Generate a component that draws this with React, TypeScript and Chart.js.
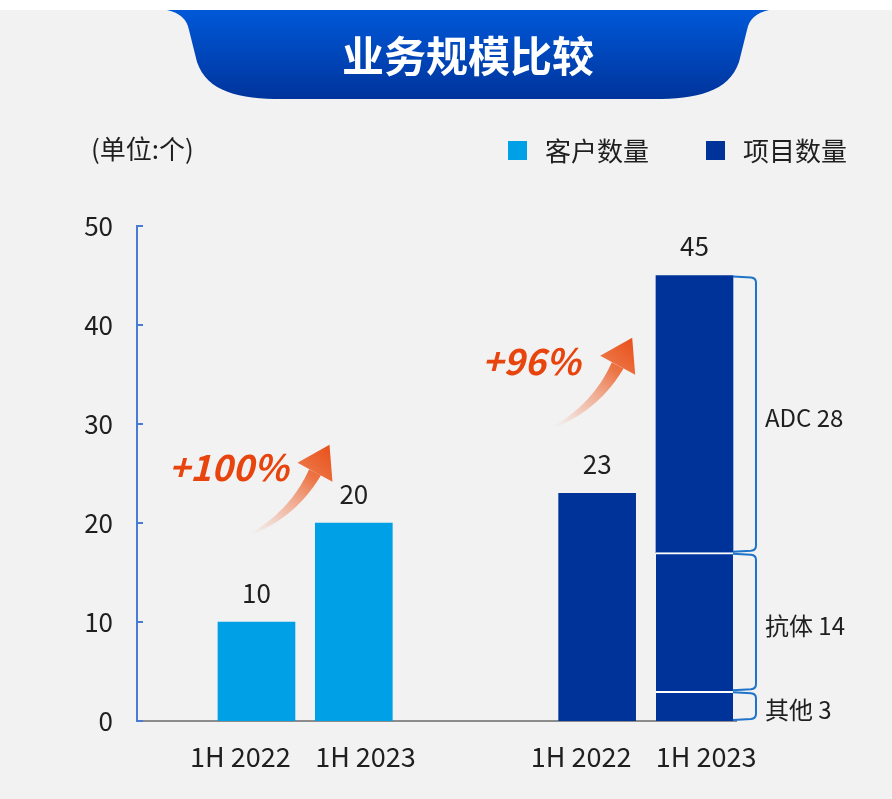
import { useEffect, useRef } from 'react';
import { Chart, registerables } from 'chart.js';

Chart.register(...registerables);

// ---------- data ----------
const titleText = '业务规模比较';
const unitText = '(单位:个)';
const seriesNames = ['客户数量', '项目数量'];
const periods = ['1H 2022', '1H 2023'];
const customerCounts = [10, 20];
const projectCounts = [23, 45];
const projectTypes = ['其他', '抗体', 'ADC'];
const projectTypeCounts2023 = [3, 14, 28];
const growthLabels = ['+100%', '+96%'];
const yTickValues = [0, 10, 20, 30, 40, 50];

// ---------- layout / style ----------
const W = 892;
const H = 799;
const AREA = { left: 137, top: 226, right: 736, bottom: 721 };
const GROUP_X = [0, 7];
const BAR_STEP = 2;
const X_MIN = -2.455;
const X_MAX = 9.853;
const LABEL_SHIFT = [-0.33, 0.24];
const LIGHT = '#00a0e6';
const DARK = '#003399';
const AXIS_BLUE = '#4a7bd4';
const BRACKET = '#1e74c8';
const ORANGE = '#e8440e';
const TEXT = '#1f1f1f';
const FONT = '"Noto Sans CJK SC", "Noto Sans", sans-serif';
// growth arrow tips in data coordinates
const ARROW_TIPS = [
  { x: 1.5, y: 27.9 },
  { x: 7.72, y: 38.7 },
];

const xPos = (g: number, i: number) => GROUP_X[g] + i * BAR_STEP;

const tickList = [0, 1].flatMap((g) =>
  periods.map((p, i) => ({ value: xPos(g, i) + LABEL_SHIFT[i], label: p }))
);

function drawArrow(ctx: CanvasRenderingContext2D, tx: number, ty: number) {
  const P = (dx: number, dy: number) => [tx + dx, ty + dy];
  const tail = P(-80, 90);
  const ctrl = P(-36, 69);
  const mid = P(-14.5, 27.5);
  const L = P(-32, 18);
  const R = P(3, 37);
  const N = 40;
  const left: number[][] = [];
  const right: number[][] = [];
  for (let i = 0; i <= N; i++) {
    const t = i / N;
    const u = 1 - t;
    const px = u * u * tail[0] + 2 * u * t * ctrl[0] + t * t * mid[0];
    const py = u * u * tail[1] + 2 * u * t * ctrl[1] + t * t * mid[1];
    const dx = 2 * u * (ctrl[0] - tail[0]) + 2 * t * (mid[0] - ctrl[0]);
    const dy = 2 * u * (ctrl[1] - tail[1]) + 2 * t * (mid[1] - ctrl[1]);
    const len = Math.hypot(dx, dy) || 1;
    const nx = -dy / len;
    const ny = dx / len;
    const w = 0.4 + 6.2 * Math.pow(t, 0.8);
    left.push([px + nx * w, py + ny * w]);
    right.push([px - nx * w, py - ny * w]);
  }
  const grad = ctx.createLinearGradient(tail[0], tail[1], tx, ty);
  grad.addColorStop(0, 'rgba(242,180,160,0)');
  grad.addColorStop(0.3, 'rgba(240,160,130,0.55)');
  grad.addColorStop(0.7, 'rgba(236,110,60,0.95)');
  grad.addColorStop(1, '#e8501a');
  ctx.save();
  ctx.fillStyle = grad;
  ctx.beginPath();
  ctx.moveTo(left[0][0], left[0][1]);
  for (const p of left) ctx.lineTo(p[0], p[1]);
  for (let i = right.length - 1; i >= 0; i--) ctx.lineTo(right[i][0], right[i][1]);
  ctx.closePath();
  ctx.fill();
  ctx.beginPath();
  ctx.moveTo(tx, ty);
  ctx.lineTo(L[0], L[1]);
  ctx.lineTo(R[0], R[1]);
  ctx.closePath();
  ctx.fill();
  ctx.restore();
}

const decorPlugin = {
  id: 'decor',
  beforeDraw(chart: any) {
    const ctx: CanvasRenderingContext2D = chart.ctx;
    ctx.save();
    ctx.fillStyle = '#ffffff';
    ctx.fillRect(0, 0, W, H);
    ctx.fillStyle = '#f2f2f2';
    ctx.fillRect(0, 10, W, H - 10);

    // banner
    const cx = 468;
    const m = (x: number) => 2 * cx - x;
    const g = ctx.createLinearGradient(0, 10, 0, 99);
    g.addColorStop(0, '#0058d8');
    g.addColorStop(1, '#00349c');
    ctx.fillStyle = g;
    ctx.beginPath();
    ctx.moveTo(167, 10);
    ctx.quadraticCurveTo(186, 14, 189, 30);
    ctx.lineTo(197, 62);
    ctx.bezierCurveTo(207, 92, 240, 99, 282, 99);
    ctx.lineTo(m(282), 99);
    ctx.bezierCurveTo(m(240), 99, m(207), 92, m(197), 62);
    ctx.lineTo(m(189), 30);
    ctx.quadraticCurveTo(m(186), 14, m(167), 10);
    ctx.closePath();
    ctx.fill();

    ctx.fillStyle = '#ffffff';
    ctx.font = `bold 42px ${FONT}`;
    ctx.textAlign = 'center';
    ctx.textBaseline = 'middle';
    ctx.fillText(titleText, cx, 56);

    // unit
    ctx.fillStyle = TEXT;
    ctx.font = `26px ${FONT}`;
    ctx.textAlign = 'left';
    ctx.fillText(unitText, 91, 149);

    // legend
    const legendX = [508, 706];
    const legendColors = [LIGHT, DARK];
    seriesNames.forEach((name, i) => {
      ctx.fillStyle = legendColors[i];
      ctx.fillRect(legendX[i], 141, 19, 19);
      ctx.fillStyle = TEXT;
      ctx.fillText(name, legendX[i] + 37, 151);
    });
    ctx.restore();
  },
  afterDatasetsDraw(chart: any) {
    const ctx: CanvasRenderingContext2D = chart.ctx;
    const xs = chart.scales.x;
    const ys = chart.scales.y;
    ctx.save();

    // inner y ticks
    ctx.strokeStyle = AXIS_BLUE;
    ctx.lineWidth = 2;
    ys.ticks.forEach((t: any) => {
      const y = Math.round(ys.getPixelForValue(t.value));
      ctx.beginPath();
      ctx.moveTo(AREA.left - 1, y);
      ctx.lineTo(AREA.left + 6, y);
      ctx.stroke();
    });

    // value labels
    ctx.fillStyle = TEXT;
    ctx.font = `26px ${FONT}`;
    ctx.textAlign = 'center';
    ctx.textBaseline = 'middle';
    customerCounts.forEach((v, i) => {
      ctx.fillText(String(v), xs.getPixelForValue(xPos(0, i)), ys.getPixelForValue(v) - 29);
    });
    projectCounts.forEach((v, i) => {
      ctx.fillText(String(v), xs.getPixelForValue(xPos(1, i)), ys.getPixelForValue(v) - 29);
    });

    // brackets
    ctx.font = `24px ${FONT}`;
    ctx.textAlign = 'left';
    projectTypes.forEach((name, k) => {
      const meta = chart.getDatasetMeta(2 + k);
      const el = meta.data[0];
      const p = el.getProps(['x', 'y', 'base', 'width'], true);
      const top = Math.min(p.y, p.base) + 1;
      const bot = Math.max(p.y, p.base) - 1;
      const x0 = p.x + p.width / 2;
      const bx = x0 + 23;
      ctx.strokeStyle = BRACKET;
      ctx.lineWidth = 2;
      ctx.beginPath();
      ctx.moveTo(x0, top);
      ctx.lineTo(bx - 5, top + 1);
      ctx.quadraticCurveTo(bx, top + 1.5, bx, top + 6);
      ctx.lineTo(bx, bot - 6);
      ctx.quadraticCurveTo(bx, bot - 1.5, bx - 5, bot - 1);
      ctx.lineTo(x0, bot);
      ctx.stroke();
      ctx.fillStyle = TEXT;
      ctx.fillText(`${name} ${projectTypeCounts2023[k]}`, bx + 9, (top + bot) / 2 + 4);
    });

    // growth arrows
    ARROW_TIPS.forEach((a, i) => {
      const tx = xs.getPixelForValue(a.x);
      const ty = ys.getPixelForValue(a.y);
      drawArrow(ctx, tx, ty);
      ctx.fillStyle = ORANGE;
      ctx.font = `italic bold 36px ${FONT}`;
      ctx.textAlign = 'center';
      ctx.textBaseline = 'middle';
      ctx.fillText(growthLabels[i], tx - 101, ty + 23);
    });
    ctx.restore();
  },
};

export default function App() {
  const ref = useRef<HTMLCanvasElement | null>(null);
  useEffect(() => {
    if (!ref.current) return;
    const font = { family: FONT, size: 26 };
    const chart = new Chart(ref.current, {
      type: 'bar',
      data: {
        datasets: [
          {
            label: seriesNames[0],
            data: customerCounts.map((v, i) => ({ x: xPos(0, i), y: v })),
            backgroundColor: LIGHT,
          },
          {
            label: seriesNames[1],
            data: [{ x: xPos(1, 0), y: projectCounts[0] }],
            backgroundColor: DARK,
          },
          ...projectTypes.map((t, k) => ({
            label: t,
            data: [{ x: xPos(1, 1), y: projectTypeCounts2023[k] }],
            backgroundColor: DARK,
            borderColor: '#ffffff',
            borderWidth: k < projectTypes.length - 1 ? { top: 2, left: 0, right: 0, bottom: 0 } : 0,
          })),
        ] as any,
      },
      options: {
        responsive: false,
        animation: false,
        events: [],
        barThickness: 77,
        layout: { padding: { left: 0, top: AREA.top, right: W - AREA.right, bottom: 0 } },
        plugins: { legend: { display: false }, tooltip: { enabled: false }, title: { display: false } },
        scales: {
          x: {
            type: 'linear',
            min: X_MIN,
            max: X_MAX,
            bounds: 'data',
            offset: false,
            stacked: true,
            grid: { display: false, drawTicks: false, offset: false },
            border: { display: true, color: '#8c8c8c', width: 2 },
            ticks: {
              autoSkip: false,
              maxRotation: 0,
              font: { family: FONT, size: 27 },
              color: TEXT,
              padding: 20,
              callback: (_v: any, i: number) => tickList[i]?.label ?? '',
            },
            afterBuildTicks: (s: any) => {
              s.ticks = tickList.map((t) => ({ value: t.value }));
            },
            afterFit: (s: any) => {
              s.height = H - AREA.bottom;
            },
          },
          y: {
            min: 0,
            max: 50,
            stacked: true,
            grid: { display: false, drawTicks: false },
            border: { display: true, color: AXIS_BLUE, width: 2 },
            ticks: { font, color: TEXT, padding: 24 },
            afterBuildTicks: (s: any) => {
              s.ticks = yTickValues.map((v) => ({ value: v }));
            },
            afterFit: (s: any) => {
              s.width = AREA.left;
            },
          },
        },
      } as any,
      plugins: [decorPlugin],
    });
    return () => chart.destroy();
  }, []);
  return (
    <div style={{ position: 'absolute', left: 0, top: 0, width: W, height: H }}>
      <canvas ref={ref} width={W} height={H} style={{ display: 'block' }} />
    </div>
  );
}
